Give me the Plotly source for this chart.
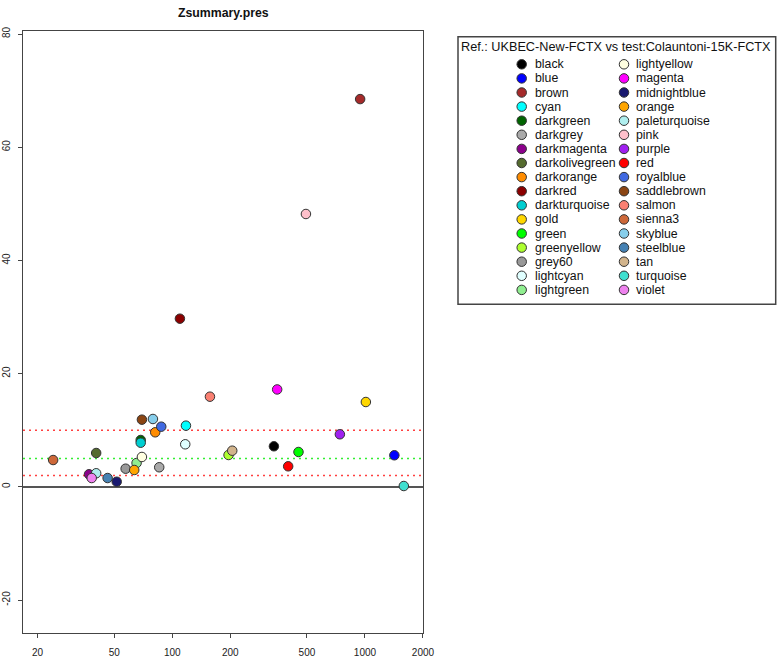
import plotly.graph_objects as go

# ---- data ----
modules = ["black", "blue", "brown", "cyan", "darkgreen", "darkgrey", "darkmagenta",
           "darkolivegreen", "darkorange", "darkred", "darkturquoise", "gold", "green",
           "greenyellow", "grey60", "lightcyan", "lightgreen", "lightyellow", "magenta",
           "midnightblue", "orange", "paleturquoise", "pink", "purple", "red", "royalblue",
           "saddlebrown", "salmon", "sienna3", "skyblue", "steelblue", "tan", "turquoise",
           "violet"]
module_colors = ["#000000", "#0000FF", "#A52A2A", "#00FFFF", "#006400", "#A9A9A9", "#8B008B",
                 "#556B2F", "#FF8C00", "#8B0000", "#00CED1", "#FFD700", "#00FF00",
                 "#ADFF2F", "#999999", "#E0FFFF", "#90EE90", "#FFFFE0", "#FF00FF",
                 "#191970", "#FFA500", "#AFEEEE", "#FFC0CB", "#A020F0", "#FF0000", "#4169E1",
                 "#8B4513", "#FA8072", "#CD6839", "#87CEEB", "#4682B4", "#D2B48C", "#40E0D0",
                 "#EE82EE"]
module_size = [337, 1421, 944, 117.8, 68.6, 85.6, 37.0,
               40.3, 81.6, 109.6, 68.6, 1011, 452,
               196, 57.3, 116.8, 65.3, 69.6, 350.4,
               51.5, 63.5, 40.3, 494, 741, 399.6, 87.7,
               69.6, 156.9, 24.1, 79.4, 46.2, 204.8, 1591,
               38.2]
zsummary = [7.16, 5.57, 68.5, 10.8, 8.27, 3.45, 2.21,
            5.97, 9.63, 29.7, 7.79, 14.98, 6.15,
            5.62, 3.2, 7.51, 4.2, 5.27, 17.2,
            0.9, 2.97, 2.39, 48.2, 9.28, 3.62, 10.62,
            11.86, 15.92, 4.73, 11.98, 1.55, 6.38, 0.14,
            1.55]
thresholds = [2, 5, 10]
threshold_colors = ["#ff4040", "#33ee33", "#ff4040"]
x_ticks = [20, 50, 100, 200, 500, 1000, 2000]
y_ticks = [-20, 0, 20, 40, 60, 80]
title = "Zsummary.pres"
legend_title = "Ref.: UKBEC-New-FCTX vs test:Colauntoni-15K-FCTX"

FONT = "Liberation Sans, Arial, sans-serif"
W, H = 778, 657
ml, mr, mt, mb = 23, 2, 31, 24
pw, ph = W - ml - mr, H - mt - mb

def px_x(p):
    return (p - ml) / pw

def px_y(p):
    return (H - mb - p) / ph

fig = go.Figure()

fig.add_trace(go.Scatter(
    x=module_size, y=zsummary, mode="markers",
    marker=dict(size=9.5, color=module_colors, line=dict(color="#333333", width=1)),
    xaxis="x", yaxis="y", showlegend=False, hoverinfo="text", text=modules,
))

# legend drawn manually (two columns, column-wise fill)
nrows = (len(modules) + 1) // 2
mark_x = [63.7, 166]
text_x = [75, 176]
lx, ly = [], []
for i, name in enumerate(modules):
    col, row = divmod(i, nrows)
    lx.append(mark_x[col])
    ly.append(row)
fig.add_trace(go.Scatter(
    x=lx, y=ly, mode="markers",
    marker=dict(size=9.5, color=module_colors, line=dict(color="#333333", width=1)),
    xaxis="x2", yaxis="y2", showlegend=False, hoverinfo="skip",
))
annotations = []
for i, name in enumerate(modules):
    col, row = divmod(i, nrows)
    annotations.append(dict(x=text_x[col], y=row, xref="x2", yref="y2", text=name,
                            showarrow=False, xanchor="left", yanchor="middle",
                            font=dict(family=FONT, size=12.3, color="#111111")))
annotations.append(dict(x=1, y=-1.25, xref="x2", yref="y2", text=legend_title,
                        showarrow=False, xanchor="left", yanchor="middle",
                        font=dict(family=FONT, size=12.7, color="#111111")))
annotations.append(dict(x=px_x(223), y=px_y(13), xref="paper", yref="paper", text="<b>" + title + "</b>",
                        showarrow=False, xanchor="center", yanchor="middle",
                        font=dict(family=FONT, size=12.3, color="#111111")))

shapes = []
for t, c in zip(thresholds, threshold_colors):
    shapes.append(dict(type="line", xref="x domain", yref="y", x0=0, x1=1, y0=t, y1=t,
                       line=dict(color=c, width=1.6, dash="2px,4px"), layer="below"))
shapes.append(dict(type="rect", xref="x2 domain", yref="y2 domain", x0=0, x1=1, y0=0, y1=1,
                   line=dict(color="#444444", width=1.5)))

row_sp = 14.1
row0 = 64.3
box_top, box_bot = 36.7, 304.3

fig.update_layout(
    width=W, height=H,
    margin=dict(l=ml, r=mr, t=mt, b=mb),
    paper_bgcolor="white", plot_bgcolor="white",
    font=dict(family=FONT, size=10, color="#222222"),
    xaxis=dict(type="log", domain=[0, px_x(423)], range=[1.2256, 3.3012],
               tickvals=x_ticks, ticktext=[str(v) for v in x_ticks],
               ticks="outside", ticklen=4, tickcolor="#444444", tickwidth=1,
               showline=True, linecolor="#444444", linewidth=1.3, mirror=True,
               showgrid=False, zeroline=False, automargin=False,
               tickfont=dict(family=FONT, size=10, color="#222222"), ticklabelstandoff=6),
    yaxis=dict(domain=[0, 1], range=[-25.83, 80.53], tickvals=y_ticks,
               ticktext=[str(v) for v in y_ticks], tickangle=-90,
               ticks="outside", ticklen=4, tickcolor="#444444", tickwidth=1,
               showline=True, linecolor="#444444", linewidth=1.3, mirror=True,
               showgrid=False, zeroline=True, zerolinecolor="#555555", zerolinewidth=1.6,
               automargin=False,
               tickfont=dict(family=FONT, size=10, color="#222222"), ticklabelstandoff=4),
    xaxis2=dict(domain=[px_x(458), px_x(775.7)], range=[0, 317.7], visible=False,
                anchor="y2", fixedrange=True),
    yaxis2=dict(domain=[px_y(box_bot), px_y(box_top)],
                range=[(box_bot - row0) / row_sp, (box_top - row0) / row_sp],
                visible=False, anchor="x2", fixedrange=True),
    annotations=annotations,
    shapes=shapes,
)

fig.write_html(
    "out.html",
    config={"displayModeBar": False},
    post_script="document.body.style.margin='0';document.body.style.overflow='hidden';",
)
